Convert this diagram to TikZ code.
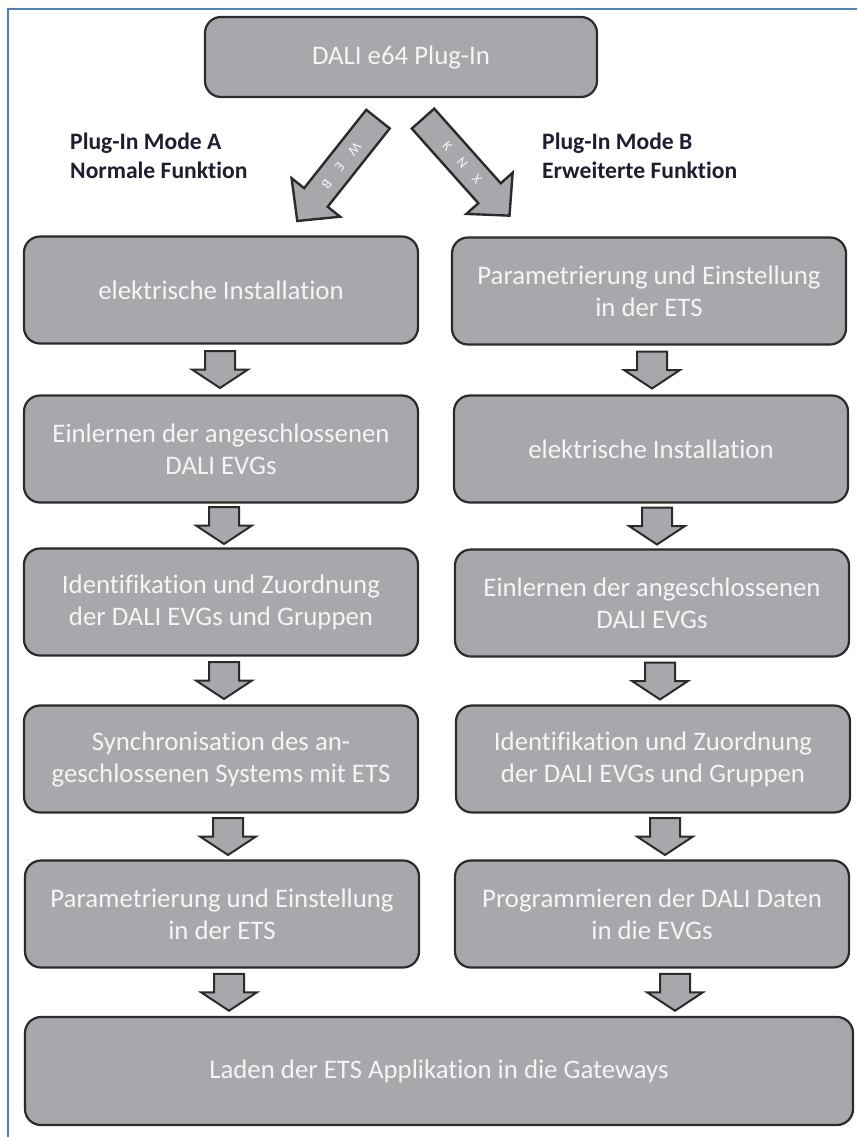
\documentclass[tikz,border=0pt]{standalone}
\usepackage{fontspec}
\setmainfont{Carlito}[Ligatures={NoCommon}]
\usetikzlibrary{calc}
\definecolor{boxgray}{HTML}{A7A8AB}
\definecolor{boxline}{HTML}{2B2B2B}
\definecolor{boxtext}{HTML}{F5F5F5}
\definecolor{labeltext}{HTML}{1E1E30}
\definecolor{frameblue}{HTML}{4F81BD}

\begin{document}
\begin{tikzpicture}[x=1pt, y=-1pt,
  stage/.style={rectangle, draw=boxline, line width=2.2pt, rounded corners=16pt, fill=boxgray, text=boxtext, minimum width=394pt, minimum height=107pt, align=center, font=\fontsize{26.8}{32}\selectfont},
  mode/.style={align=left, anchor=north west, inner sep=0pt, text=labeltext, font=\fontsize{23.6}{29}\selectfont\bfseries},
  stepdown/.pic={
    \draw[fill=boxgray, draw=boxline, line width=2pt, line join=miter]
      (-15,-18.5) -- (15,-18.5) -- (15,0) -- (28,0) -- (0,18.5) -- (-28,0) -- (-15,0) -- cycle;
  },
  pics/slant/.style n args={2}{code={
    \begin{scope}[rotate=#1]
      \draw[fill=boxgray, draw=boxline, line width=2.4pt, line join=miter]
        (0,-15) -- (100,-15) -- (100,-31) -- (130,0) -- (100,31) -- (100,15) -- (0,15) -- cycle;
      \node[rotate=#1, text=boxtext, inner sep=0pt, font=\fontsize{14}{14}\selectfont] at (59,0) {#2};
    \end{scope}
  }}
]
  \useasboundingbox (0,0) rectangle (857,1137);
  \draw[frameblue, line width=2pt] (8,1137) -- (8,9) -- (857,9);

  \node[stage, minimum width=392pt, minimum height=80pt] (T) at (401,57) {DALI e64 Plug-In};

  \node[mode] (MA) at (70,133) {Plug-In Mode A\\Normale Funktion};
  \node[mode] (MB) at (542,133) {Plug-In Mode B\\Erweiterte Funktion};

  \pic at ([shift={(-23,21)}]T.south) {slant={-128.4}{W\quad E\quad B}};
  \pic at ([shift={(22,20.5)}]T.south) {slant={-48.3}{K\quad N\quad X}};

  % Mode A
  \node[stage] (L1) at (221,290) {elektrische Installation};
  \node[stage] (L2) at (221,449) {Einlernen der angeschlossenen\\DALI EVGs};
  \node[stage] (L3) at (221,602) {Identifikation und Zuordnung\\der DALI EVGs und Gruppen};
  \node[stage] (L4) at (221,759) {Synchronisation des an-\\geschlossenen Systems mit ETS};
  \node[stage] (L5) at (222,914) {Parametrierung und Einstellung\\in der ETS};

  % Mode B
  \node[stage] (R1) at (649,291) {Parametrierung und Einstellung\\in der ETS};
  \node[stage] (R2) at (651,449) {elektrische Installation};
  \node[stage] (R3) at (652,603) {Einlernen der angeschlossenen\\DALI EVGs};
  \node[stage] (R4) at (653,759) {Identifikation und Zuordnung\\der DALI EVGs und Gruppen};
  \node[stage] (R5) at (652,914) {Programmieren der DALI Daten\\in die EVGs};

  \node[stage, minimum width=828pt, minimum height=108pt] (B) at (439,1071) {Laden der ETS Applikation in die Gateways};

  \foreach \a/\b/\dx in {L1/L2/-1, L2/L3/3, L3/L4/3, L4/L5/7, L5/B/7,
                         R1/R2/3, R2/R3/6, R3/R4/8, R4/R5/12, R5/B/23}
    \pic[xshift=\dx] at ($(\a.south)!.5!(\a.south|-\b.north)$) {stepdown};
\end{tikzpicture}
\end{document}
